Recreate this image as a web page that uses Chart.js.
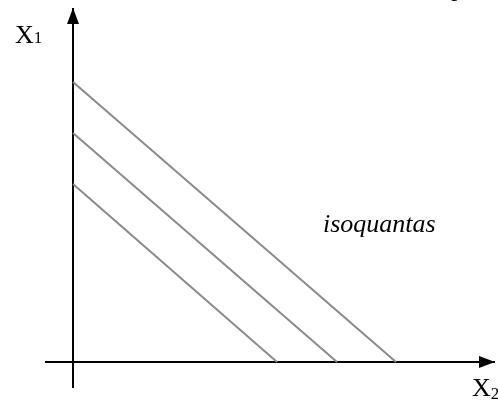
<!DOCTYPE html>
<html>
<head>
<meta charset="utf-8">
<script src="https://cdn.jsdelivr.net/npm/chart.js@4/dist/chart.umd.min.js"></script>
<style>
html,body{margin:0;padding:0;background:#fff;}
#wrap{width:498px;height:401px;}
</style>
</head>
<body>
<div id="wrap"><canvas id="c" width="498" height="401"></canvas></div>
<script>
// isoquant lines: where each one meets the X1 axis and the X2 axis (1 unit = 10px)
const isoNames = ['q1', 'q2', 'q3'];
const x1Intercepts = [17.8, 22.9, 28.0];
const x2Intercepts = [20.4, 26.4, 32.3];

// axis extents, arrow tip at the second value
const axisX1 = [-2.6, 35.4];
const axisX2 = [-2.8, 42.2];

// text
const axisMain = ['X', 'X'];
const axisSub = ['1', '2'];
const curveLabel = 'isoquantas';

const serif = '"Liberation Serif", "Times New Roman", serif';
const gray = '#8a8a8a';

const datasets = isoNames.map((n, i) => ({
  label: n,
  data: [{x: 0, y: x1Intercepts[i]}, {x: x2Intercepts[i], y: 0}],
  showLine: true, borderColor: gray, borderWidth: 2, pointRadius: 0
}));
datasets.push({label: 'X1 axis', data: [{x: 0, y: axisX1[0]}, {x: 0, y: axisX1[1]}], showLine: true, borderColor: '#000', borderWidth: 2, pointRadius: 0});
datasets.push({label: 'X2 axis', data: [{x: axisX2[0], y: 0}, {x: axisX2[1], y: 0}], showLine: true, borderColor: '#000', borderWidth: 2, pointRadius: 0});

const decor = {
  id: 'decor',
  afterDatasetsDraw(chart){
    const ctx = chart.ctx, xs = chart.scales.x, ys = chart.scales.y;
    const ox = xs.getPixelForValue(0), oy = ys.getPixelForValue(0);
    ctx.save();
    ctx.fillStyle = '#000';
    // arrow heads
    const ty = ys.getPixelForValue(axisX1[1]);
    ctx.beginPath(); ctx.moveTo(ox, ty); ctx.lineTo(ox-6, ty+16); ctx.lineTo(ox+6, ty+16); ctx.closePath(); ctx.fill();
    const tx = xs.getPixelForValue(axisX2[1]);
    ctx.beginPath(); ctx.moveTo(tx, oy); ctx.lineTo(tx-16, oy-6); ctx.lineTo(tx-16, oy+6); ctx.closePath(); ctx.fill();

    // axis labels with subscripts
    const lab = (x, y, i, drop) => {
      ctx.font = '26px ' + serif; ctx.textBaseline = 'alphabetic'; ctx.textAlign = 'left';
      ctx.fillText(axisMain[i], x, y);
      const w = ctx.measureText(axisMain[i]).width;
      ctx.font = '17px ' + serif;
      ctx.fillText(axisSub[i], x + w, y + drop);
    };
    lab(ox - 58, ty + 35, 0, 0);
    lab(tx - 23, oy + 34, 1, 3);

    ctx.font = 'italic 26px ' + serif;
    ctx.fillText(curveLabel, xs.getPixelForValue(25.0), ys.getPixelForValue(13.0));
    // clipped text from above the picture
    ctx.font = '26px ' + serif;
    ctx.fillText('p', xs.getPixelForValue(37.8), ys.getPixelForValue(36.6));
    ctx.restore();
  }
};

new Chart(document.getElementById('c'), {
  type: 'scatter',
  data: {datasets},
  options: {
    responsive: false, animation: false,
    layout: {padding: 0},
    plugins: {legend: {display: false}, tooltip: {enabled: false}},
    scales: {
      x: {type: 'linear', display: false, min: -7.3, max: 42.5},
      y: {type: 'linear', display: false, min: -3.9, max: 36.2}
    }
  },
  plugins: [decor]
});
</script>
</body>
</html>
